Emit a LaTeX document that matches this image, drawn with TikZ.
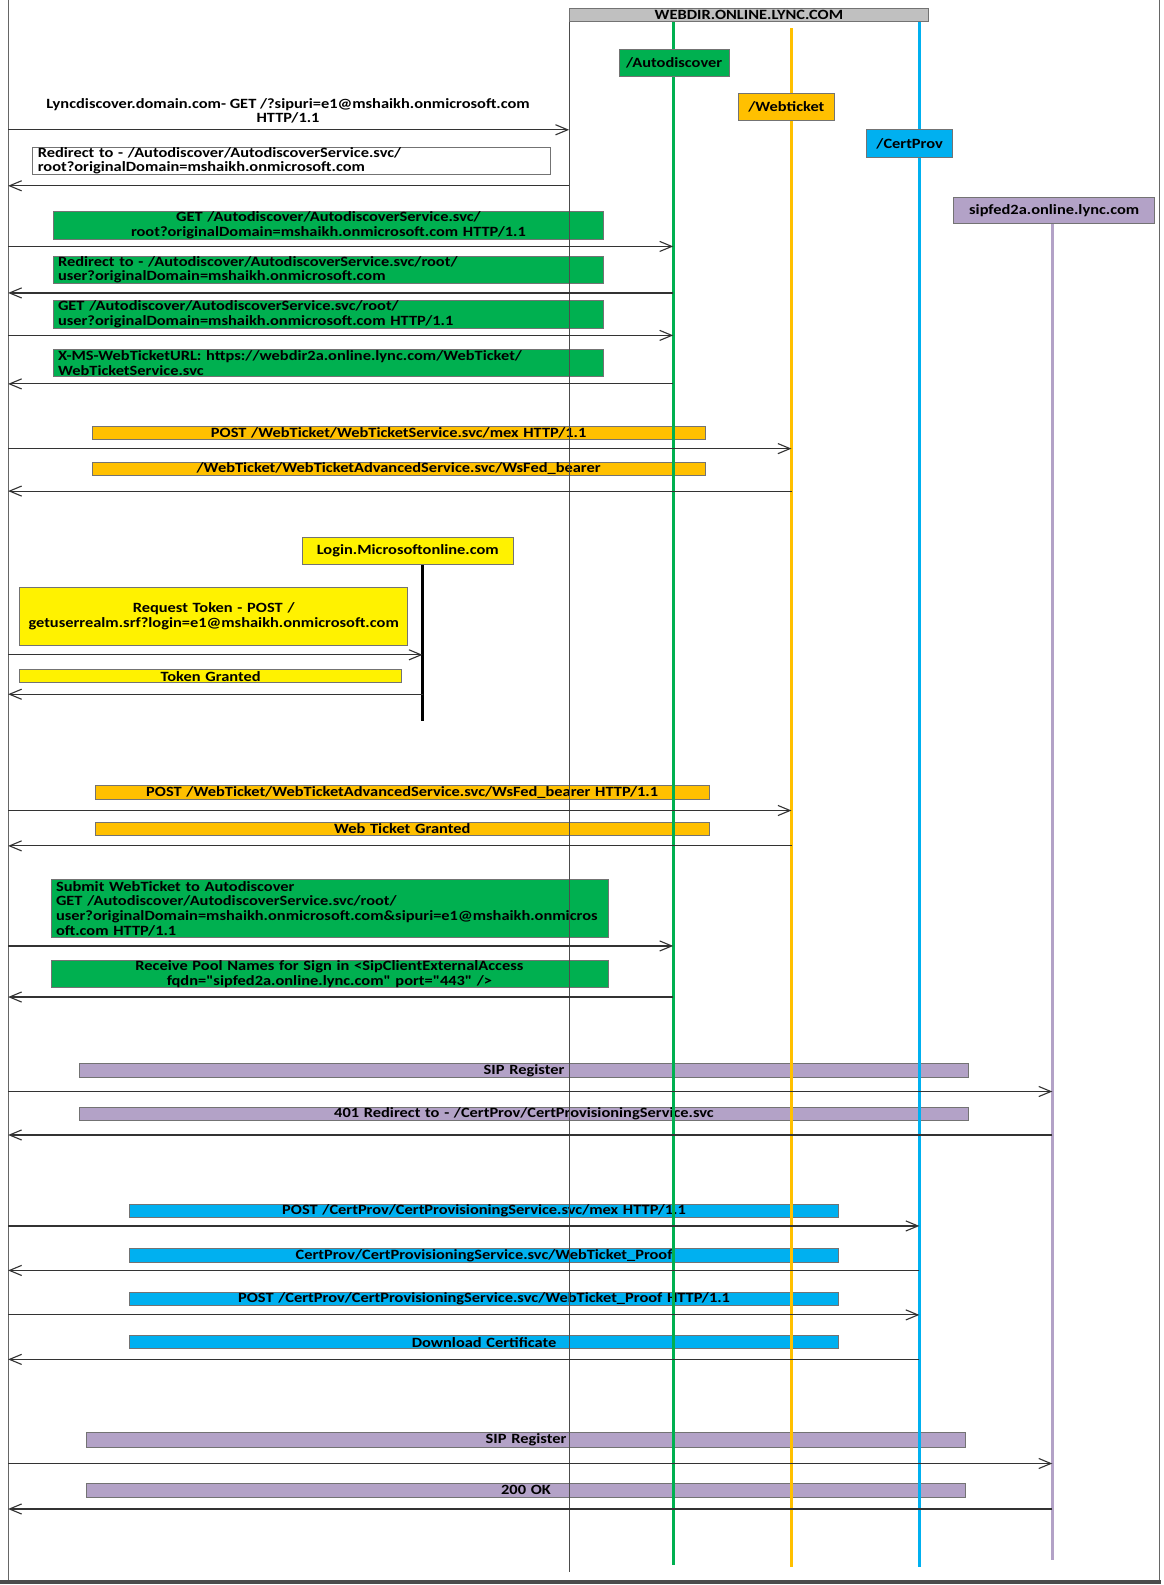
\documentclass[tikz,border=0pt]{standalone}
\usepackage{fontspec}
\newfontfamily\lyncfont{Carlito}[FakeStretch=1.16]
\usepackage{xcolor}
\usepackage{tikz}
\usetikzlibrary{arrows.meta,calc}
\definecolor{adgreen}{HTML}{00B050}
\definecolor{wtorange}{HTML}{FFC000}
\definecolor{cpblue}{HTML}{00B0F0}
\definecolor{sippurple}{HTML}{B3A2C7}
\definecolor{hdrgray}{HTML}{C0C0C0}
\hyphenpenalty=10000

\begin{document}
\begin{tikzpicture}[x=1pt, y=-1pt,
  lbl/.style={font=\lyncfont\bfseries\fontsize{14}{14.5}\selectfont},
  box/.style={lbl, draw=black!55, line width=0.8pt, anchor=north west, inner xsep=5pt, inner ysep=0pt, align=center},
  grn/.style={box, fill=adgreen},
  org/.style={box, fill=wtorange},
  ylw/.style={box, fill=yellow},
  blu/.style={box, fill=cpblue},
  prp/.style={box, fill=sippurple},
  hdr/.style={lbl, draw=black!55, line width=0.8pt, anchor=north west, inner sep=0pt},
  life/.style={line width=3pt},
  msg/.style={-{Straight Barb[length=12pt,width=10pt]}, line width=1.1pt, draw=black!80}
]
\useasboundingbox (0,0) rectangle (1151,1568);

\coordinate (cl) at (8,0);
\coordinate (lwd) at (563,21);
\coordinate (lad) at (666,21);
\coordinate (lwt) at (783,28);
\coordinate (lcp) at (909.5,21);
\coordinate (lsf) at (1041,221);
\coordinate (llm) at (418,558);

\node [lbl, anchor=north, align=center, inner sep=0pt, minimum height=27pt] (m1) at (285,96) {Lyncdiscover.domain.com- GET /?sipuri=e1@mshaikh.onmicrosoft.com\\HTTP/1.1};
\node [box, fill=white, align=left, text width=502pt, minimum height=27pt] (m2) at (32,145) {Redirect to - /Autodiscover/AutodiscoverService.svc/\\root?originalDomain=mshaikh.onmicrosoft.com};
\node [grn, text width=535pt, minimum height=27pt] (m3) at (52,209) {GET /Autodiscover/AutodiscoverService.svc/\\root?originalDomain=mshaikh.onmicrosoft.com HTTP/1.1};
\node [grn, align=left, text width=535pt, minimum height=27pt] (m4) at (52,253) {Redirect to - /Autodiscover/AutodiscoverService.svc/root/\\user?originalDomain=mshaikh.onmicrosoft.com};
\node [grn, align=left, text width=535pt, minimum height=27pt] (m5) at (52,297) {GET /Autodiscover/AutodiscoverService.svc/root/\\user?originalDomain=mshaikh.onmicrosoft.com HTTP/1.1};
\node [grn, align=left, text width=535pt, minimum height=27pt] (m6) at (52,345) {X-MS-WebTicketURL: https://webdir2a.online.lync.com/WebTicket/\\WebTicketService.svc};
\node [org, text width=596pt, minimum height=13pt] (m7) at (91,421) {POST /WebTicket/WebTicketService.svc/mex HTTP/1.1};
\node [org, text width=596pt, minimum height=13pt] (m8) at (91,457) {/WebTicket/WebTicketAdvancedService.svc/WsFed\_bearer};
\node [ylw, text width=374pt, minimum height=57pt] (m9) at (19,581) {Request Token - POST /\\getuserrealm.srf?login=e1@mshaikh.onmicrosoft.com};
\node [ylw, text width=368pt, minimum height=13pt] (m10) at (19,662) {Token Granted};
\node [org, text width=597pt, minimum height=13pt] (m11) at (94,777) {POST /WebTicket/WebTicketAdvancedService.svc/WsFed\_bearer HTTP/1.1};
\node [org, text width=597pt, minimum height=13pt] (m12) at (94,813) {Web Ticket Granted};
\node [grn, align=left, text width=541pt, minimum height=57pt] (m13) at (50,870) {Submit WebTicket to Autodiscover\\GET /Autodiscover/AutodiscoverService.svc/root/\\user?originalDomain=mshaikh.onmicrosoft.com\&sipuri=e1@mshaikh.onmicros\\oft.com HTTP/1.1};
\node [grn, text width=541pt, minimum height=26pt] (m14) at (50,950) {Receive Pool Names for Sign in <SipClientExternalAccess\\fqdn="sipfed2a.online.lync.com" port="443" />};
\node [prp, text width=870pt, minimum height=13pt] (m15) at (78,1052) {SIP Register};
\node [prp, text width=870pt, minimum height=13pt] (m16) at (78,1095) {401 Redirect to - /CertProv/CertProvisioningService.svc};
\node [blu, text width=691pt, minimum height=13pt] (m17) at (128,1191) {POST /CertProv/CertProvisioningService.svc/mex HTTP/1.1};
\node [blu, text width=691pt, minimum height=13pt] (m18) at (128,1235) {CertProv/CertProvisioningService.svc/WebTicket\_Proof};
\node [blu, text width=691pt, minimum height=13pt] (m19) at (128,1278) {POST /CertProv/CertProvisioningService.svc/WebTicket\_Proof HTTP/1.1};
\node [blu, text width=691pt, minimum height=13pt] (m20) at (128,1321) {Download Certificate};
\node [prp, text width=860pt, minimum height=14pt] (m21) at (85,1417) {SIP Register};
\node [prp, text width=860pt, minimum height=14pt] (m22) at (85,1467) {200 OK};

\draw [black!60, line width=1pt] (cl) -- ++(0,1565);
\draw [black!70, line width=1pt] (lwd) -- ++(0,1534);
\draw [life, adgreen] (lad) -- ++(0,1527);
\draw [life, wtorange] (lwt) -- ++(0,1522);
\draw [life, cpblue] (lcp) -- ++(0,1529);
\draw [life, sippurple] (lsf) -- ++(0,1322);
\draw [life, black] (llm) -- ++(0,155);

\node [hdr, fill=hdrgray, minimum width=355pt, minimum height=13pt] (wd) at (563,8) {WEBDIR.ONLINE.LYNC.COM};
\node [hdr, fill=adgreen, minimum width=109pt, minimum height=27pt] (ad) at (612,48) {/Autodiscover};
\node [hdr, fill=wtorange, minimum width=95pt, minimum height=27pt] (wt) at (730,92) {/Webticket};
\node [hdr, fill=cpblue, minimum width=85pt, minimum height=27pt] (cp) at (857,128) {/CertProv};
\node [hdr, fill=sippurple, minimum width=199pt, minimum height=26pt] (sf) at (943,195) {sipfed2a.online.lync.com};
\node [hdr, fill=yellow, minimum width=208pt, minimum height=27pt] (lm) at (299,531) {Login.Microsoftonline.com};

\foreach \m/\l/\g in {m1/lwd/5, m3/lad/7, m5/lad/7, m7/lwt/9, m9/llm/9, m11/lwt/11, m13/lad/8, m15/lsf/14, m17/lcp/8, m19/lcp/9, m21/lsf/16}
  \draw [msg] ($(\m.south -| cl)+(0,\g)$) -- ($(\m.south -| \l)+(0,\g)$);
\foreach \m/\l/\g in {m2/lwd/11, m4/lad/9, m6/lad/7, m8/lwt/15, m10/llm/11, m12/lwt/10, m14/lad/9, m16/lsf/14, m18/lcp/8, m20/lcp/10, m22/lsf/11}
  \draw [msg] ($(\m.south -| \l)+(0,\g)$) -- ($(\m.south -| cl)+(0,\g)$);

\draw [black!60, line width=1.5pt] (1147,0) -- (1147,1565);
\draw [black!70, line width=3pt] (0,1565) -- (1148.5,1565);
\end{tikzpicture}
\end{document}
